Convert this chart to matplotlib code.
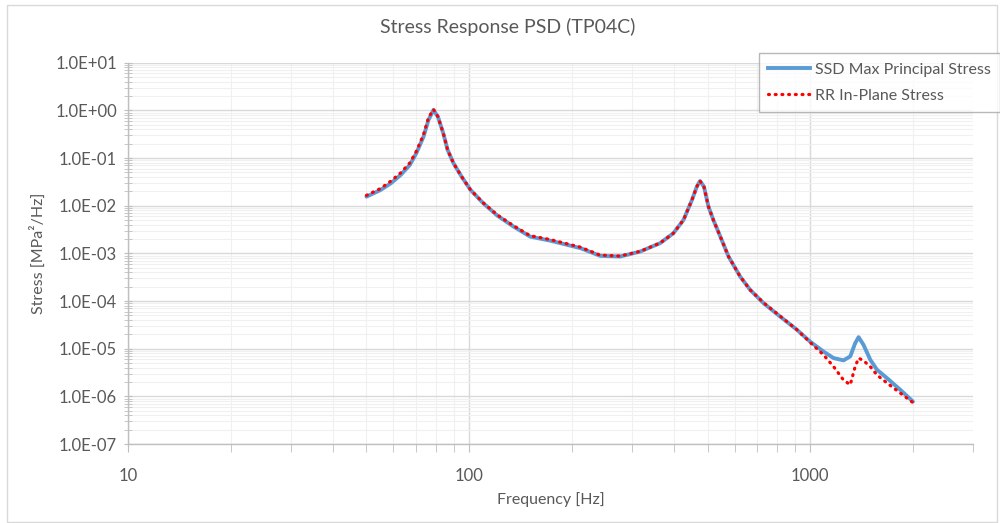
import numpy as np
import matplotlib
matplotlib.use('Agg')
import matplotlib.pyplot as plt
from matplotlib.ticker import LogLocator, FuncFormatter, NullFormatter
from matplotlib.lines import Line2D
from matplotlib.patches import Rectangle

plt.rcParams['font.family'] = ['Lato', 'DejaVu Sans']

# ### data
freq = [50, 55, 59, 63, 67, 70, 73.5, 76, 78.6, 81, 84, 86.5, 90, 95, 101, 110, 121, 135,
        151, 173, 212, 242, 277, 317, 363, 397, 425, 450, 465, 475, 488, 503, 520, 545, 576,
        623, 667, 730, 817, 914, 1000, 1094, 1171, 1252, 1310, 1354, 1386, 1433, 1500, 1570,
        1680, 1837, 2000]

ssd_stress = [0.0155, 0.0214, 0.0297, 0.0443, 0.0716, 0.126, 0.281, 0.63, 1.02, 0.74, 0.33,
              0.148, 0.078, 0.041, 0.0214, 0.0113, 0.0062, 0.00365, 0.00225, 0.00185, 0.00129,
              0.00089, 0.00086, 0.00109, 0.00164, 0.00265, 0.00503, 0.0132, 0.0251, 0.0331,
              0.0251, 0.0096, 0.00503, 0.00225, 0.00086, 0.000327, 0.000171, 9.0e-5, 4.7e-5,
              2.5e-5, 1.4e-5, 8.7e-6, 6.35e-6, 5.7e-6, 6.9e-6, 1.3e-5, 1.75e-5, 1.2e-5, 5.85e-6,
              3.6e-6, 2.4e-6, 1.37e-6, 7.8e-7]

rr_stress = [0.0165, 0.023, 0.033, 0.049, 0.079, 0.138, 0.31, 0.70, 1.05, 0.74, 0.33,
             0.148, 0.078, 0.041, 0.0214, 0.0115, 0.0064, 0.0038, 0.00235, 0.00195, 0.00135,
             0.00092, 0.00088, 0.00110, 0.00165, 0.00265, 0.00503, 0.0132, 0.0251, 0.0331,
             0.0251, 0.0096, 0.00503, 0.00225, 0.00086, 0.000327, 0.000171, 9.2e-5, 4.8e-5,
             2.5e-5, 1.35e-5, 7.4e-6, 4.2e-6, 2.2e-6, 1.75e-6, 4.2e-6, 6.35e-6, 5.6e-6, 4.2e-6,
             2.8e-6, 1.9e-6, 1.17e-6, 7.4e-7]

labels = ['SSD Max Principal Stress', 'RR In-Plane Stress']

txt = '#595959'
dots = (0, (0.3, 1.8))
fig = plt.figure(figsize=(10, 5.23), dpi=100, facecolor='white')
ax = fig.add_axes([0.128, 0.151, 0.845, 0.729])

ax.plot(freq, ssd_stress, '-', color='#5B9BD5', lw=2.8, solid_capstyle='round',
        solid_joinstyle='round', zorder=3)
ax.plot(freq, rr_stress, linestyle=dots, color='#FF0000', lw=2.3,
        dash_capstyle='round', zorder=4)

ax.set_xscale('log')
ax.set_yscale('log')
ax.set_xlim(10, 3000)
ax.set_ylim(1e-7, 1e1)

ax.xaxis.set_major_locator(LogLocator(base=10, numticks=10))
ax.xaxis.set_minor_locator(LogLocator(base=10, subs=np.arange(2, 10), numticks=20))
ax.yaxis.set_major_locator(LogLocator(base=10, numticks=20))
ax.yaxis.set_minor_locator(LogLocator(base=10, subs=np.arange(2, 10), numticks=20))
ax.xaxis.set_minor_formatter(NullFormatter())
ax.yaxis.set_minor_formatter(NullFormatter())
ax.xaxis.set_major_formatter(FuncFormatter(lambda v, p: '%d' % round(v)))
ax.yaxis.set_major_formatter(FuncFormatter(lambda v, p: '%.1E' % v))

ax.grid(True, which='major', color='#D9D9D9', lw=1.0, zorder=0)
ax.grid(True, which='minor', color='#F0F0F0', lw=0.8, zorder=0)
ax.set_axisbelow(True)

for s in ['top', 'right']:
    ax.spines[s].set_visible(False)
for s in ['left', 'bottom']:
    ax.spines[s].set_color('#BFBFBF')
    ax.spines[s].set_linewidth(1.0)

ax.tick_params(axis='x', which='both', direction='out', length=6, color='#BFBFBF',
               labelsize=12, labelcolor=txt, pad=11)
ax.tick_params(axis='y', which='both', direction='inout', length=6, color='#BFBFBF',
               labelsize=12, labelcolor=txt, pad=5)

ax.set_xlabel('Frequency [Hz]', fontsize=11.5, color=txt, labelpad=6)
ax.set_ylabel('Stress [MPa²/Hz]', fontsize=11.5, color=txt, labelpad=7)
fig.suptitle('Stress Response PSD (TP04C)', fontsize=14, color=txt, x=0.508, y=0.965)

handles = [Line2D([], [], color='#5B9BD5', lw=2.8),
           Line2D([], [], color='#FF0000', lw=2.3, linestyle=dots, dash_capstyle='round')]
leg = fig.legend(handles, labels, loc='upper right', bbox_to_anchor=(1.0, 0.899),
                 fontsize=11.5, frameon=True, fancybox=False, handlelength=2.6,
                 borderpad=0.6, labelspacing=0.75, handletextpad=0.3, borderaxespad=0)
leg.get_frame().set_edgecolor('#A6A6A6')
leg.get_frame().set_linewidth(1.0)
for t in leg.get_texts():
    t.set_color(txt)

fig.patches.append(Rectangle((0.007, 0.002), 0.99, 0.988, transform=fig.transFigure,
                             fill=False, edgecolor='#D9D9D9', lw=1.0))

fig.savefig('out.png', dpi=100, facecolor='white')
